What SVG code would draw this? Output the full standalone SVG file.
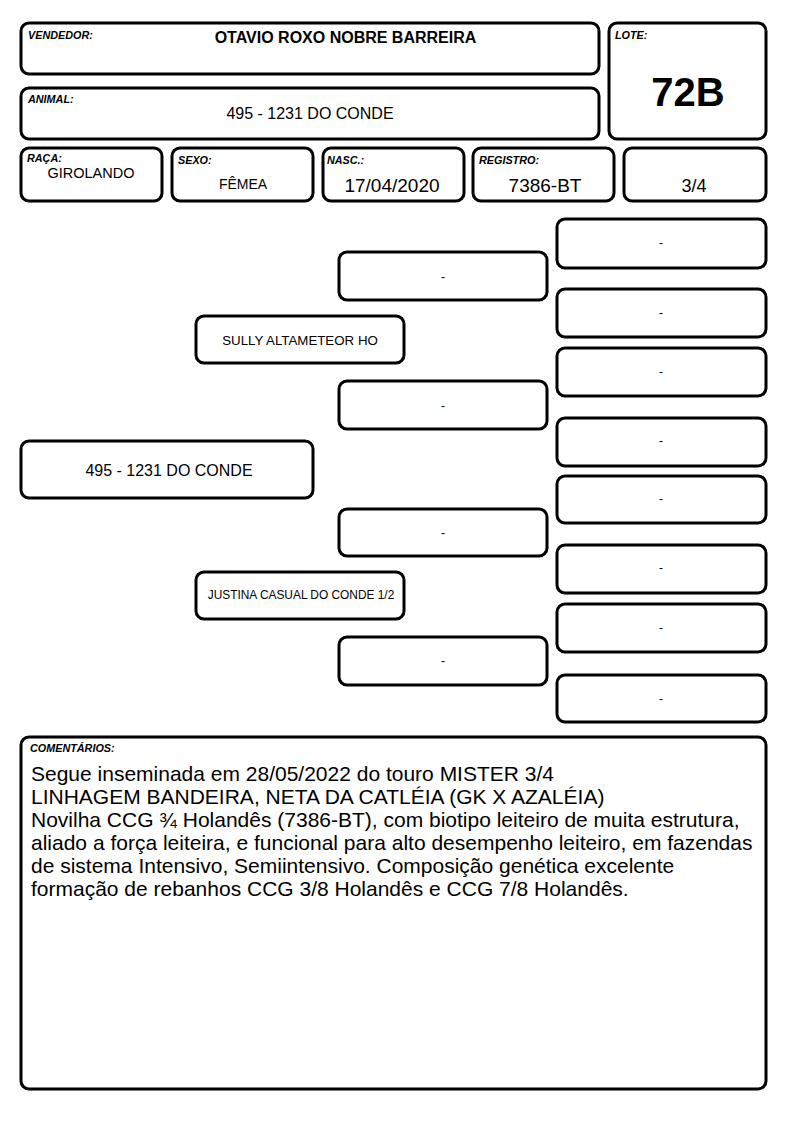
<svg xmlns="http://www.w3.org/2000/svg" width="794" height="1123" viewBox="0 0 794 1123">
<style>
.b{fill:#fff;stroke:#000;stroke-width:3}
.t{font-family:"Liberation Sans",Arial,sans-serif;fill:#000}
.lb{font-family:"Liberation Sans",Arial,sans-serif;font-size:10.8px;font-weight:bold;font-style:italic;fill:#000}
.c{text-anchor:middle}
</style>
<rect width="794" height="1123" fill="#fff"/>
<g id="vendedor"><rect class="b" x="21" y="23" width="578" height="51" rx="8"/><text class="lb" x="28" y="39">VENDEDOR:</text><text class="t c" x="345.5" y="43" font-size="16" font-weight="bold">OTAVIO ROXO NOBRE BARREIRA</text></g>
<g id="animal"><rect class="b" x="21" y="88" width="578" height="51" rx="8"/><text class="lb" x="28" y="103">ANIMAL:</text><text class="t c" x="310" y="119" font-size="16">495 - 1231 DO CONDE</text></g>
<g id="lote"><rect class="b" x="609" y="23" width="157" height="116" rx="8"/><text class="lb" x="615" y="39">LOTE:</text><text class="t c" x="688" y="106" font-size="40" font-weight="bold">72B</text></g>
<g id="raca"><rect class="b" x="21" y="148" width="141" height="53" rx="8"/><text class="lb" x="27" y="162">RAÇA:</text><text class="t c" x="91" y="178" font-size="14.5">GIROLANDO</text></g>
<g id="sexo"><rect class="b" x="172" y="148" width="141" height="53" rx="8"/><text class="lb" x="178" y="164">SEXO:</text><text class="t c" x="243" y="189" font-size="14">FÊMEA</text></g>
<g id="nasc"><rect class="b" x="323" y="148" width="141" height="53" rx="8"/><text class="lb" x="327" y="164">NASC.:</text><text class="t c" x="392" y="192" font-size="19">17/04/2020</text></g>
<g id="registro"><rect class="b" x="473" y="148" width="141" height="53" rx="8"/><text class="lb" x="479" y="164">REGISTRO:</text><text class="t c" x="545" y="192" font-size="19">7386-BT</text></g>
<g id="grau"><rect class="b" x="624" y="148" width="142" height="53" rx="8"/><text class="t c" x="694" y="192" font-size="18">3/4</text></g>

<g id="connectors"></g>

<g id="main"><rect class="b" x="21" y="441" width="292" height="57" rx="8"/><text class="t c" x="169" y="476" font-size="16">495 - 1231 DO CONDE</text></g>
<g id="pai"><rect class="b" x="196" y="316" width="208" height="47" rx="8"/><text class="t c" x="300" y="345" font-size="13.3">SULLY ALTAMETEOR HO</text></g>
<g id="mae"><rect class="b" x="196" y="572" width="208" height="47" rx="8"/><text class="t c" x="301" y="599" font-size="11.9">JUSTINA CASUAL DO CONDE 1/2</text></g>
<g id="avo1"><rect class="b" x="339" y="252" width="208" height="48" rx="8"/><text class="t c" x="443" y="281" font-size="12">-</text></g>
<g id="avo2"><rect class="b" x="339" y="381" width="208" height="48" rx="8"/><text class="t c" x="443" y="410" font-size="12">-</text></g>
<g id="avo3"><rect class="b" x="339" y="509" width="208" height="47" rx="8"/><text class="t c" x="443" y="537" font-size="12">-</text></g>
<g id="avo4"><rect class="b" x="339" y="637" width="208" height="48" rx="8"/><text class="t c" x="443" y="665" font-size="12">-</text></g>
<g id="bis1"><rect class="b" x="557" y="219" width="209" height="49" rx="8"/><text class="t c" x="661" y="247" font-size="12">-</text></g>
<g id="bis2"><rect class="b" x="557" y="289" width="209" height="48" rx="8"/><text class="t c" x="661" y="317" font-size="12">-</text></g>
<g id="bis3"><rect class="b" x="557" y="348" width="209" height="48" rx="8"/><text class="t c" x="661" y="376" font-size="12">-</text></g>
<g id="bis4"><rect class="b" x="557" y="418" width="209" height="48" rx="8"/><text class="t c" x="661" y="445" font-size="12">-</text></g>
<g id="bis5"><rect class="b" x="557" y="476" width="209" height="47" rx="8"/><text class="t c" x="661" y="503" font-size="12">-</text></g>
<g id="bis6"><rect class="b" x="557" y="545" width="209" height="48" rx="8"/><text class="t c" x="661" y="572" font-size="12">-</text></g>
<g id="bis7"><rect class="b" x="557" y="604" width="209" height="48" rx="8"/><text class="t c" x="661" y="632" font-size="12">-</text></g>
<g id="bis8"><rect class="b" x="557" y="675" width="209" height="47" rx="8"/><text class="t c" x="661" y="703" font-size="12">-</text></g>

<g id="comentarios"><rect class="b" x="21" y="737" width="745" height="352" rx="8"/><text class="lb" x="30" y="752">COMENTÁRIOS:</text>
<text class="t" font-size="21" x="31">
<tspan x="31" y="781">Segue inseminada em 28/05/2022 do touro MISTER 3/4</tspan>
<tspan x="31" y="804">LINHAGEM BANDEIRA, NETA DA CATLÉIA (GK X AZALÉIA)</tspan>
<tspan x="31" y="827">Novilha CCG ¾ Holandês (7386-BT), com biotipo leiteiro de muita estrutura,</tspan>
<tspan x="31" y="850">aliado a força leiteira, e funcional para alto desempenho leiteiro, em fazendas</tspan>
<tspan x="31" y="873">de sistema Intensivo, Semiintensivo. Composição genética excelente</tspan>
<tspan x="31" y="896">formação de rebanhos CCG 3/8 Holandês e CCG 7/8 Holandês.</tspan>
</text></g>
</svg>
